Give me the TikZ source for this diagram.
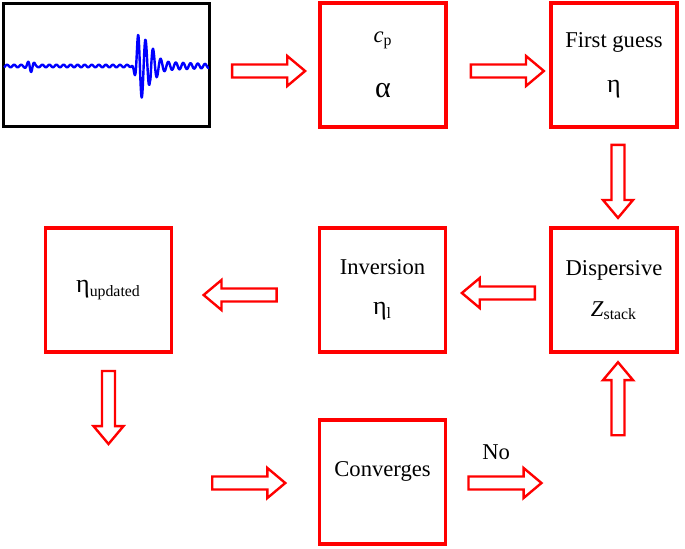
\documentclass[tikz,border=0pt]{standalone}
\usepackage{fontspec}
\setmainfont{Liberation Serif}
\usetikzlibrary{shapes.arrows,positioning,calc}
\newcommand\grk[1]{{\fontsize{13}{15}\selectfont #1}}
\begin{document}
\begin{tikzpicture}[x=0.5pt, y=-0.5pt,
  every node/.style={font=\fontsize{11.3}{13.5}\selectfont},
  box/.style={draw=red, line width=1.6pt, minimum width=63pt, minimum height=62pt, align=center, inner sep=0pt},
  signalbox/.style={draw=black, line width=1.6pt, minimum width=103pt, minimum height=61.5pt, inner sep=0pt},
  blockarrow/.style={single arrow, draw=red, fill=white, line width=1.2pt, inner xsep=0pt, inner ysep=2.65pt,
                     minimum height=36.5pt, single arrow head extend=4.25pt, single arrow tip angle=80},
  declare function={
    env(\t)=34*exp(-min(((\t-139)/ifthenelse(\t<139,4,14))^2,12));
    wv(\t)=env(\t)*cos((\t-138)*48)
           + (\t>150)*6*exp(-(\t-150)/30)*cos((\t-138)*48)
           + 5*exp(-min(((\t-31)/4)^2,12))*cos((\t-28)*60)
           + 1.3*cos(\t*51);}]
  \useasboundingbox (0,0) rectangle (685,548);
  % top row
  \node[signalbox] (wave) at (106.5,65) {};
  \draw[blue, line width=1.2pt, line join=round] plot[domain=4:209, samples=400, smooth] (\x,{66-wv(\x)});
  \node[box] (cp) at (383,65) {\textit{c}\textsubscript{p}\\[14pt]{\fontsize{15}{17}\selectfont α}};
  \node[box] (fg) at (614,65) {First guess\\[9pt]\grk{η}};
  % middle row
  \node[box] (upd) at (108.5,290) {\grk{η}\textsubscript{updated}};
  \node[box] (inv) at (382.5,290) {Inversion\\[6.5pt]\grk{η}\textsubscript{l}};
  \node[box] (disp) at (614,290) {Dispersive\\[7pt]\textit{Z}\textsubscript{stack}};
  % bottom row
  \node[box] (conv) at (382.5,482) {};
  \node (convlbl) at ([yshift=5.5pt]conv.center) {Converges};
  % block arrows
  \node[blockarrow] (a1) at ($(wave.east)!0.5!(cp.west)+(0,6)$) {};
  \node[blockarrow] (a2) at ($(cp.east)!0.5!(fg.west)+(5,6)$) {};
  \node[blockarrow, rotate=-90] (a3) at ($(fg.south)!0.5!(disp.north)+(4,0)$) {};
  \node[blockarrow, rotate=180] (a4) at ($(disp.west)!0.5!(inv.east)+(4,3)$) {};
  \node[blockarrow, rotate=180] (a5) at ($(inv.west)!0.5!(upd.east)+(-1.5,5)$) {};
  \node[blockarrow, rotate=-90] (a6) at ($(upd.south)+(0,50)$) {};
  \node[blockarrow] (a7) at ($(conv.west)+(-73,1)$) {};
  \node[blockarrow] (a8) at ($(conv.east)+(54,1)$) {};
  \node[blockarrow, rotate=90] (a9) at ($(disp.south)+(4,49)$) {};
  \node[above=4.5pt of a8, xshift=-2.5pt] (no) {No};
\end{tikzpicture}
\end{document}
